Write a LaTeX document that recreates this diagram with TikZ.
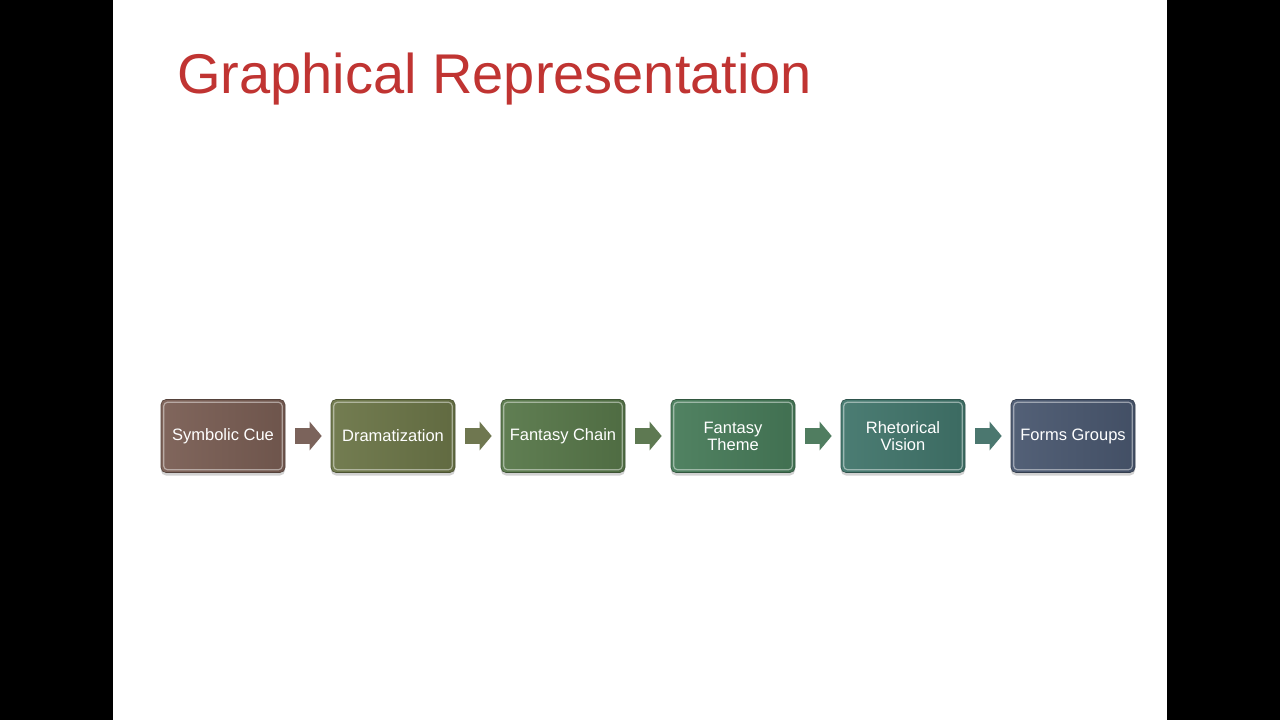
\documentclass[tikz,border=0pt]{standalone}
\usepackage{fontspec}
\setmainfont{Liberation Sans}
\usetikzlibrary{shadows,arrows.meta,calc}
\definecolor{titlered}{RGB}{192,52,50}
\definecolor{cA}{RGB}{122,94,84}
\definecolor{cB}{RGB}{108,118,72}
\definecolor{cC}{RGB}{88,120,74}
\definecolor{cD}{RGB}{72,124,90}
\definecolor{cE}{RGB}{66,118,108}
\definecolor{cF}{RGB}{74,88,112}
\tikzset{
  stagebox/.style={rectangle, rounded corners=5pt, minimum width=124pt, minimum height=73pt,
    inner sep=2pt, align=center, text=white, font=\fontsize{16.5}{17}\selectfont,
    draw=#1!70!black, line width=0.6pt,
    left color=#1!95!white, right color=#1!90!black,
    drop shadow={shadow xshift=0pt, shadow yshift=-3pt, opacity=0.35}},
  flowarrow/.style={line width=16pt, draw=#1!85!gray,
    -{Triangle[length=12pt 0, width=28pt 0]}, shorten <=10pt, shorten >=9pt},
  bevel/.style={draw=white, opacity=0.45, line width=1.2pt, rounded corners=4pt}
}
\begin{document}
\begin{tikzpicture}[x=1pt,y=-1pt]
\useasboundingbox (0,0) rectangle (1280,720);
\fill[black] (0,0) rectangle (1280,720);
\fill[white] (113,0) rectangle (1167,720);
\node[anchor=base west, text=titlered, font=\fontsize{56}{56}\selectfont, inner sep=0] (title) at (177,93) {Graphical Representation};
\node[stagebox=cA] (b1) at (223,436) {Symbolic Cue};
\node[stagebox=cB] (b2) at (393,436) {Dramatization};
\node[stagebox=cC] (b3) at (563,436) {Fantasy Chain};
\node[stagebox=cD] (b4) at (733,436) {Fantasy\\Theme};
\node[stagebox=cE] (b5) at (903,436) {Rhetorical\\Vision};
\node[stagebox=cF] (b6) at (1073,436) {Forms Groups};
\foreach \b in {b1,b2,b3,b4,b5,b6}{
  \draw[bevel] ([shift={(3pt,3pt)}]\b.south west) rectangle ([shift={(-3pt,-3pt)}]\b.north east);
}
\draw[flowarrow=cA] (b1.east) -- (b2.west);
\draw[flowarrow=cB] (b2.east) -- (b3.west);
\draw[flowarrow=cC] (b3.east) -- (b4.west);
\draw[flowarrow=cD] (b4.east) -- (b5.west);
\draw[flowarrow=cE] (b5.east) -- (b6.west);
\end{tikzpicture}
\end{document}
